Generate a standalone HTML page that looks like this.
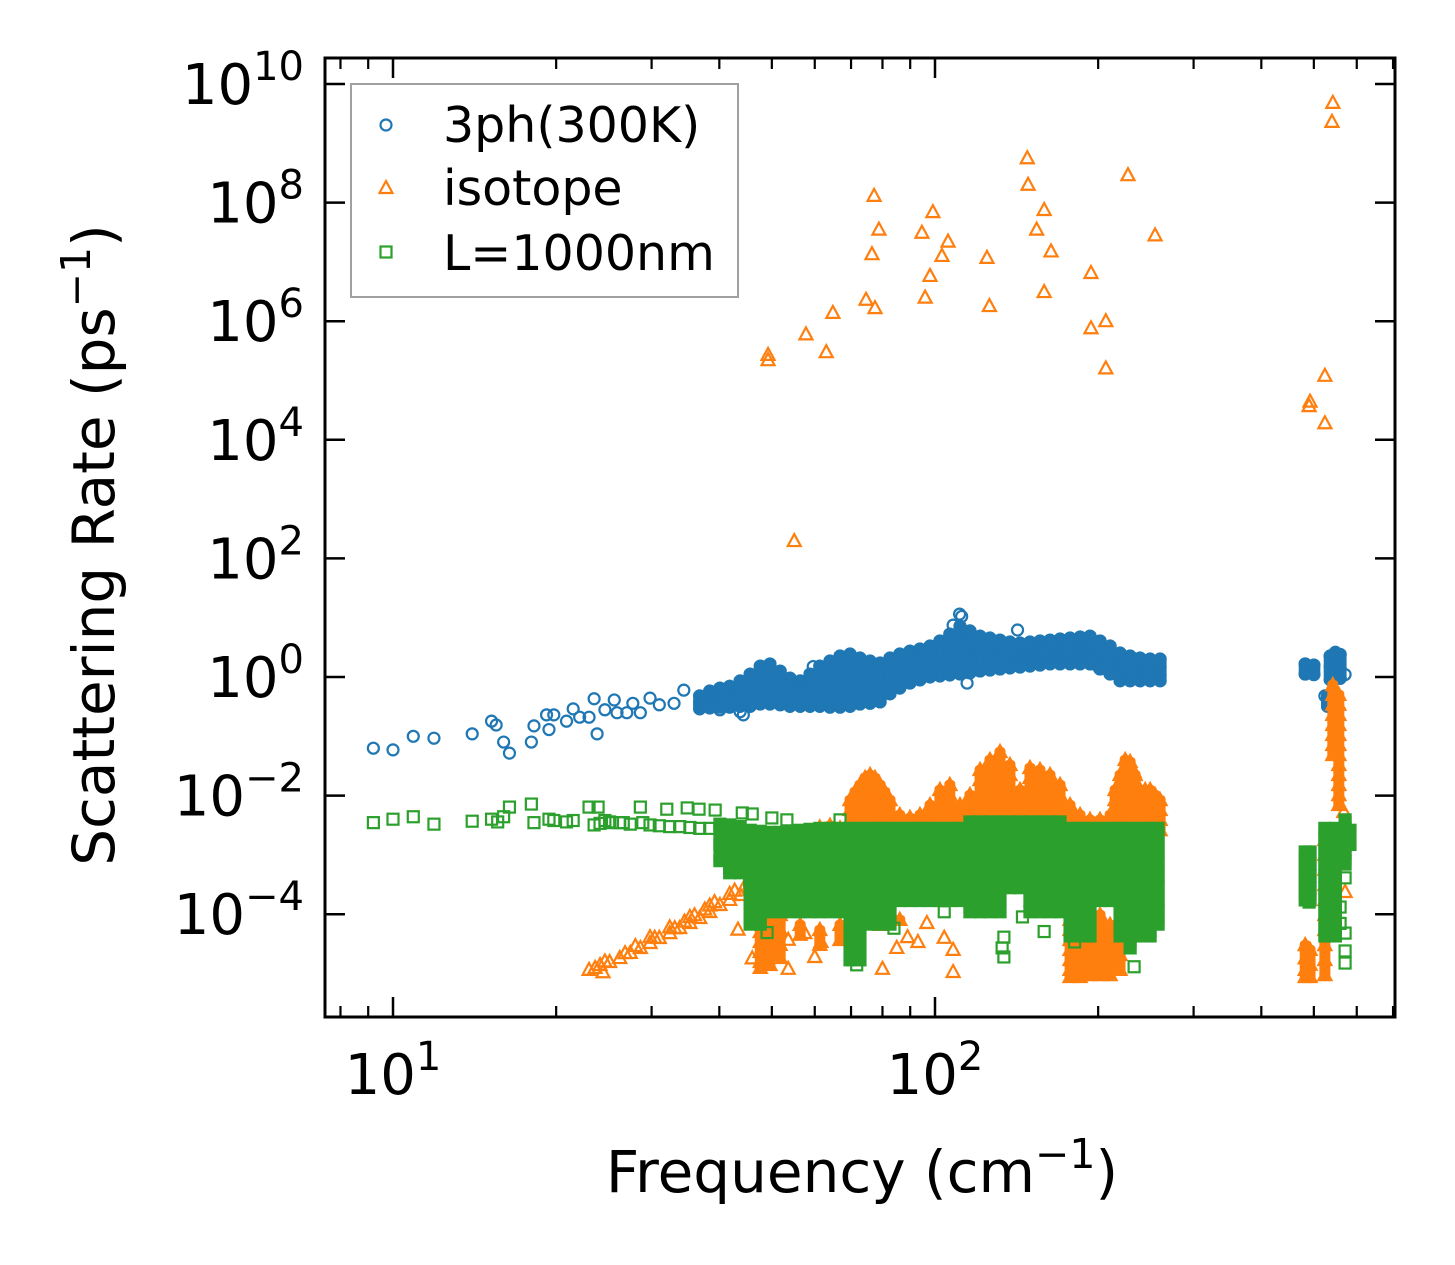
<!DOCTYPE html>
<html><head><meta charset="utf-8"><style>
html,body{margin:0;padding:0;background:#fff;}
svg{display:block;font-family:"DejaVu Sans","Liberation Sans",sans-serif;}
</style></head><body>
<svg id="chart" width="1455" height="1265" viewBox="0 0 1455 1265" xmlns="http://www.w3.org/2000/svg">
<rect x="0" y="0" width="1455" height="1265" fill="#fff"/>
<g id="marks"></g>
<g id="axes"></g>
<g id="legend">
  <rect x="351" y="84" width="387" height="213" fill="#fff" stroke="#a0a0a0" stroke-width="2"/>
  <circle cx="386" cy="125" r="5.5" fill="none" stroke="#1f77b4" stroke-width="2.2"/>
  <text x="443" y="142" font-size="49">3ph(300K)</text>
  <path d="M386,181 L392.5,193 L379.5,193 Z" fill="none" stroke="#ff7f0e" stroke-width="2.2"/>
  <text x="443" y="205" font-size="49">isotope</text>
  <rect x="380.5" y="246.5" width="11" height="11" fill="none" stroke="#2ca02c" stroke-width="2.2"/>
  <text x="443" y="270" font-size="49">L=1000nm</text>
</g>
</svg>
<script>
// ---- data (frequency in cm^-1, scattering rate in ps^-1) ----
const xTickMajor = [10, 100];
const xTickMinor = [8, 9, 20, 30, 40, 50, 60, 70, 80, 90, 200, 300, 400, 500, 600, 700];
const xTickLabels = ["1", "2"];
const yTickMajor = [1e-4, 1e-2, 1e0, 1e2, 1e4, 1e6, 1e8, 1e10];
const yTickLabels = ["\u22124", "\u22122", "0", "2", "4", "6", "8", "10"];

const blueSparse = [[9.2,0.063],[10.0,0.059],[10.9,0.10],[11.9,0.093],[14.0,0.11],[15.2,0.18],[15.5,0.155],[16.0,0.08],[16.4,0.052],[18.0,0.08],[18.2,0.15],[19.4,0.13],[19.2,0.23],[19.8,0.23],[20.9,0.18],[21.5,0.29],[22.1,0.21],[23.0,0.21],[23.5,0.43],[23.8,0.11],[24.6,0.28],[25.6,0.41],[25.9,0.25],[27.0,0.25],[27.7,0.36],[28.6,0.25],[29.8,0.44],[31.0,0.34],[33.0,0.36],[34.4,0.6],[36.8,0.34],[38.4,0.5],[40.1,0.28],[41.8,0.41],[43.7,0.26],
[111,11.5],[112,10.5],[108,7.5],[142,6.2],[59.6,1.5],[44.3,0.23],[114.6,0.79],[200,1.5],
[482,1.66],[482,1.12],[500,1.59],[500,1.1],[490,1.35],[536,2.26],[548,2.6],[559,2.4],[536,1.5],[548,1.6],[559,1.4],[548,1.0],[540,0.9],[559,0.95],[571,1.1],[524,0.48],[530,0.36],[536,0.32],[530,0.42]];
const blueBand = [
[36.8,[0.48,0.38,0.29]],[38.4,[0.58,0.41,0.30]],[40.1,[0.65,0.46,0.31]],[41.8,[0.70,0.48,0.31]],
[43.7,[0.86,0.60,0.44,0.32]],[45.6,[1.12,0.76,0.52,0.32]],[47.6,[1.53,1.0,0.65,0.35]],[49.6,[1.66,1.04,0.65,0.35]],
[51.8,[1.26,0.82,0.54,0.34]],[54.0,[0.96,0.68,0.46,0.32]],[56.4,[0.86,0.60,0.44,0.32]],[58.8,[1.12,0.76,0.52,0.32]],
[61.3,[1.53,0.96,0.60,0.32]],[64.0,[1.86,1.12,0.65,0.31]],[66.8,[2.26,1.31,0.65,0.31]],[69.7,[2.44,1.31,0.65,0.32]],
[72.7,[2.09,1.21,0.65,0.35]],[75.9,[1.86,1.08,0.60,0.36]],[79.2,[1.72,1.04,0.60,0.38]],[82.6,[2.09,1.31,0.82,0.52]],
[86.1,[2.44,1.59,1.0,0.65]],[89.9,[2.74,1.86,1.21,0.79]],[93.8,[2.97,2.01,1.31,0.89]],[97.9,[3.33,2.26,1.47,1.0]],
[102.1,[4.05,2.64,1.66,1.04]],[106.5,[5.3,3.33,2.09,1.08]],[111.2,[7.2,4.2,2.26,1.12]],[116.0,[6.0,3.6,2.09,1.17]],
[121.1,[4.9,3.08,1.94,1.26]],[126.3,[4.55,2.85,1.86,1.31]],[131.8,[4.2,2.74,1.94,1.36]],[137.5,[3.89,2.64,1.86,1.42]],
[143.5,[3.74,2.64,1.94,1.47]],[149.7,[3.89,2.74,2.01,1.53]],[156.2,[4.05,2.85,2.09,1.59]],[163.0,[4.2,2.97,2.17,1.66]],
[170.1,[4.37,3.08,2.26,1.66]],[177.5,[4.55,3.2,2.26,1.66]],[185.2,[4.72,3.33,2.35,1.66]],[193.2,[4.9,3.47,2.35,1.66]],
[201.6,[4.05,2.85,1.94,1.36]],[210.4,[3.33,2.26,1.59,1.12]],[219.5,[2.54,1.72,1.21,0.86]],[229.1,[2.26,1.59,1.12,0.86]],
[239.0,[2.09,1.47,1.08,0.86]],[249.4,[2.01,1.47,1.08,0.86]],[260.2,[2.01,1.47,1.08,0.86]],
[482,[1.66,1.12]],[500,[1.59,1.1]],[536,[2.26,0.9]],[548,[2.6,1.0]],[559,[2.4,0.95]],[530,[0.48,0.32]]];

const orangeSparse = [[148,5.6e8],[227,2.9e8],[148.5,2.0e8],[77.2,1.3e8],[99.1,6.9e7],[159,7.5e7],[78.8,3.5e7],[94.6,3.1e7],[154,3.5e7],[254.7,2.8e7],[105.7,2.2e7],[76.5,1.35e7],[103,1.26e7],[163.7,1.5e7],[124.7,1.17e7],[97.9,5.8e6],[194,6.5e6],[74.6,2.3e6],[77.5,1.66e6],[95.9,2.5e6],[159,3.1e6],[126,1.8e6],[64.8,1.38e6],[57.8,6.0e5],[206.6,1.0e6],[194,7.6e5],[63,3.0e5],[49.2,2.7e5],[49.2,2.2e5],[206.6,1.6e5],
[542,4.8e9],[540,2.3e9],[524,1.2e5],[492,4.4e4],[490,3.7e4],[524,1.9e4],[55,196],
[53.6,1.2e-5],[80,1.2e-5],[108,1.06e-5],[89,4.1e-5],[104,4.0e-5],[93,3.4e-5],[85,2.7e-5],[60,1.9e-5],[61.6,3.4e-5],[53.6,3.7e-5],[46,1.8e-5],[57.5,4.8e-5],[96.6,7.1e-5],[108,2.5e-5],[43.3,5.5e-5],[233,0.025],[73.3,0.017],[255,1.6e-3],
[571,2.37e-4],[568,5.3e-3],[565,2.6e-3],[568,1.21e-3]];
const orangeRamp = [[23.0,1.15e-5],[23.6,1.24e-5],[24.1,1.39e-5],[24.4,1.05e-5],[25.1,1.56e-5],[26.2,1.82e-5],[27.4,2.22e-5],[28.6,2.69e-5],[29.8,3.27e-5],[31.0,3.97e-5],[32.4,4.8e-5],[33.8,5.85e-5],[35.3,7.1e-5],[36.8,8.6e-5],[38.4,1.09e-4],[40.1,1.43e-4],[41.8,1.74e-4],[43.7,2.11e-4],[45.6,2.56e-4],[47.6,3.1e-4],
[29.8,4.1e-5],[32.4,6.0e-5],[35.3,9.0e-5],[38.4,1.4e-4],[41.8,2.2e-4],[45.6,3.3e-4],
[24.6,1.6e-5],[26.8,2.2e-5],[28.0,2.9e-5],[30.4,4.0e-5],[33.1,5.8e-5],[34.5,7.5e-5],[36.0,9.6e-5],[37.6,1.2e-4],[39.2,1.6e-4],[42.7,2.5e-4],[44.6,3.0e-4]];
const orangeCols = [
[61.3,[2.9e-3]],[64.0,[3.1e-3]],[66.8,[2.8e-3]],
[69.7,[8.4e-3,5.7e-3,3.9e-3,2.6e-3]],[71.2,[0.0115,7.8e-3,5.3e-3,3.6e-3]],[72.7,[0.0151,0.0102,6.9e-3,4.7e-3,3.2e-3]],
[74.3,[0.0198,0.0134,9.1e-3,6.2e-3,4.2e-3,2.84e-3]],[75.9,[0.0222,0.0151,0.0102,6.9e-3,4.7e-3,3.2e-3]],[77.5,[0.0198,0.0134,9.1e-3,6.2e-3,4.2e-3,2.84e-3]],
[79.2,[0.0151,0.0102,6.9e-3,4.7e-3,3.2e-3]],[80.8,[0.0115,7.8e-3,5.3e-3,3.6e-3]],[82.6,[8.4e-3,5.7e-3,3.9e-3,2.6e-3]],[86.1,[4.7e-3,3.2e-3]],
[89.9,[4.2e-3,2.9e-3]],[93.8,[4.7e-3,3.2e-3]],[97.9,[6.9e-3,4.7e-3,3.2e-3]],[102.1,[0.0124,8.4e-3,5.7e-3,3.9e-3]],[106.5,[0.0151,0.0102,6.9e-3,4.7e-3,3.2e-3]],[111.2,[6.9e-3,4.7e-3,3.2e-3]],
[116.0,[0.0102,6.9e-3,4.7e-3,3.2e-3]],[121.1,[0.027,0.0183,0.0124,8.4e-3,5.7e-3,3.9e-3]],[126.3,[0.0398,0.027,0.0183,0.0124,8.4e-3,5.7e-3,3.9e-3]],
[131.8,[0.0543,0.0369,0.025,0.017,0.0115,7.8e-3,5.3e-3,3.6e-3]],[137.5,[0.0328,0.0222,0.0151,0.0102,6.9e-3,4.7e-3,3.2e-3]],[143.5,[0.0124,8.4e-3,5.7e-3,3.9e-3]],
[149.7,[0.0292,0.0198,0.0134,9.1e-3,6.2e-3,4.2e-3,2.84e-3]],[156.2,[0.027,0.0183,0.0124,8.4e-3,5.7e-3,3.9e-3]],[163.0,[0.0222,0.0151,0.0102,6.9e-3,4.7e-3,3.2e-3]],
[170.1,[0.0151,0.0102,6.9e-3,4.7e-3,3.2e-3]],[177.5,[6.9e-3,4.7e-3,3.2e-3]],[185.2,[4.7e-3,3.2e-3]],[193.2,[3.9e-3]],[201.6,[3.9e-3]],
[210.4,[4.7e-3,3.2e-3]],[214.9,[0.0124,8.4e-3,5.7e-3,3.9e-3]],[219.5,[0.0222,0.0151,0.0102,6.9e-3,4.7e-3,3.2e-3]],[224.3,[0.0398,0.027,0.0183,0.0124,8.4e-3,5.7e-3,3.9e-3]],
[229.1,[0.0369,0.025,0.017,0.0115,7.8e-3,5.3e-3,3.6e-3]],[234.0,[0.0222,0.0151,0.0102,6.9e-3,4.7e-3,3.2e-3]],[239.0,[0.0124,8.4e-3,5.7e-3,3.9e-3]],
[244.2,[0.0124,8.4e-3,5.7e-3,3.9e-3]],[249.4,[0.0124,8.4e-3,5.7e-3,3.9e-3]],[254.7,[0.0102,6.9e-3,4.7e-3,3.2e-3]],[260.2,[8.4e-3,5.7e-3,3.9e-3,2.6e-3]],
[47.6,[1.09e-4,7.4e-5,5.0e-5,3.4e-5,2.31e-5,1.56e-5,1.24e-5]],[49.6,[1.09e-4,7.4e-5,5.0e-5,3.4e-5,2.31e-5,1.39e-5]],[51.8,[9.7e-5,5.4e-5,3.03e-5,1.82e-5]],
[56.4,[6.6e-5,4.5e-5]],[61.3,[5.4e-5,3.03e-5]],[66.8,[6.6e-5,3.67e-5]],[79.2,[9.7e-5,6.6e-5]],[86.1,[8.0e-5]],
[177.5,[1.18e-4,8.0e-5,5.4e-5,3.67e-5,2.49e-5,1.69e-5,1.15e-5,8.7e-6]],[185.2,[1.18e-4,8.0e-5,5.4e-5,3.67e-5,2.49e-5,1.69e-5,1.15e-5,8.7e-6]],
[193.2,[5.4e-5,3.03e-5,1.69e-5,9.4e-6]],[201.6,[9.7e-5,6.6e-5,4.5e-5,3.03e-5,2.05e-5,1.39e-5,9.4e-6]],[210.4,[6.6e-5,4.5e-5,3.03e-5,2.05e-5,1.39e-5,9.4e-6]],[219.5,[3.67e-5,2.05e-5,1.15e-5]],
[542,[0.73,0.50,0.34,0.23,0.155,0.105,0.0713,0.0484]],[556,[0.50,0.34,0.23,0.155,0.105,0.0713,0.0484,0.0328,0.0222,0.0151,0.0102,6.95e-3]],
[524,[1.78e-3,1.0e-3,5.6e-4,3.1e-4,1.74e-4,9.7e-5,5.4e-5,3.0e-5,1.69e-5,9.4e-6]],[482,[3.0e-5,1.8e-5,1.15e-5,8.7e-6]],[492,[2.5e-5,1.4e-5,8.7e-6]]];

const greenSparse = [[9.2,3.5e-3],[10.0,4.0e-3],[10.9,4.4e-3],[11.9,3.3e-3],[14.0,3.7e-3],[15.2,4.0e-3],[15.6,3.6e-3],[16.4,6.4e-3],[16.0,4.4e-3],[18.0,7.2e-3],[18.2,3.5e-3],[19.4,4.0e-3],[19.8,3.8e-3],[20.9,3.6e-3],[21.5,3.8e-3],[23.0,6.4e-3],[23.9,6.4e-3],[23.5,3.2e-3],[24.6,3.8e-3],[25.4,3.5e-3],[26.6,3.5e-3],[28.6,6.4e-3],[28.9,3.5e-3],
[32.0,5.9e-3],[34.9,6.2e-3],[36.7,5.9e-3],[39.3,5.7e-3],[44.1,5.1e-3],[46.0,4.9e-3],[50.0,4.2e-3],[53.3,3.9e-3],[66.8,3.9e-3],
[24.1,3.4e-3],[25.1,3.6e-3],[26.2,3.5e-3],[27.4,3.3e-3],[29.8,3.2e-3],[31.0,3.1e-3],[32.4,3.0e-3],[33.8,3.0e-3],[35.3,2.9e-3],[36.8,2.8e-3],[38.4,2.8e-3],[40.1,2.7e-3],[41.8,2.6e-3],[43.7,2.6e-3],
[49,4.9e-5],[71,2.2e-5],[71.7,1.4e-5],[134,4.1e-5],[133,2.7e-5],[134,1.9e-5],[159,5.1e-5],[233,1.3e-5],[181,3.4e-5],[104,1.1e-4],[84,5.8e-5],[45.5,3.7e-4],[145,9e-5],
[571,4.8e-5],[571,2.4e-5],[571,1.5e-5],[559,1.32e-4],[559,7.0e-5],[571,4.1e-4],[490,1.6e-4]];
const greenCols = [
[40.1,[3.3e-3,1.5e-3,8e-4]],[41.8,[3.2e-3,1.3e-3,7e-4,5e-4]],[43.7,[3.0e-3,1.5e-3,8e-4,5e-4]],
[45.6,[2.6e-3,1.7e-3,1.1e-3,7.0e-4,4.4e-4,2.8e-4,1.7e-4,1.1e-4,6.8e-5]],[47.6,[2.5e-3,1.6e-3,1.1e-3,7.0e-4,4.4e-4,2.8e-4,1.7e-4,1.1e-4,6.8e-5]],
[49.6,[2.4e-3,1.6e-3,1.1e-3,7.0e-4,4.4e-4,2.8e-4,1.7e-4,1.1e-4]],[51.8,[2.4e-3,1.6e-3,1.1e-3,7.0e-4,4.4e-4,2.8e-4,1.7e-4,1.1e-4]],
[54.0,[2.5e-3,1.7e-3,1.1e-3,7.0e-4,4.4e-4,2.8e-4,1.7e-4,1.1e-4]],[56.4,[2.6e-3,1.7e-3,1.1e-3,7.0e-4,4.4e-4,2.8e-4,1.7e-4,1.1e-4]],
[58.8,[2.7e-3,1.8e-3,1.1e-3,7.0e-4,4.4e-4,2.8e-4,1.7e-4,1.1e-4]],[61.3,[2.8e-3,1.8e-3,1.1e-3,7.0e-4,4.4e-4,2.8e-4,1.7e-4,1.1e-4]],
[64.0,[2.8e-3,1.8e-3,1.1e-3,7.0e-4,4.4e-4,2.8e-4,1.7e-4,1.1e-4]],[66.8,[2.8e-3,1.8e-3,1.1e-3,7.0e-4,4.4e-4,2.8e-4,1.7e-4,1.1e-4]],
[69.7,[2.8e-3,1.8e-3,1.1e-3,7.0e-4,4.4e-4,2.8e-4,1.7e-4,1.1e-4,6.8e-5,4.3e-5,2.7e-5,1.7e-5]],[72.7,[2.8e-3,1.8e-3,1.1e-3,7.0e-4,4.4e-4,2.8e-4,1.7e-4,1.1e-4,6.8e-5,4.3e-5,2.7e-5,1.7e-5]],
[75.9,[2.8e-3,1.8e-3,1.1e-3,7.0e-4,4.4e-4,2.8e-4,1.7e-4,1.1e-4,6.8e-5]],[79.2,[2.8e-3,1.8e-3,1.1e-3,7.0e-4,4.4e-4,2.8e-4,1.7e-4,1.1e-4,6.8e-5]],
[82.6,[2.8e-3,1.8e-3,1.1e-3,7.0e-4,4.4e-4,2.8e-4,1.7e-4,1.1e-4,6.8e-5]],[86.1,[2.8e-3,1.8e-3,1.1e-3,7.0e-4,4.4e-4,2.8e-4,1.7e-4]],
[89.9,[2.8e-3,1.8e-3,1.1e-3,7.0e-4,4.4e-4,2.8e-4,1.7e-4]],[93.8,[2.8e-3,1.8e-3,1.1e-3,7.0e-4,4.4e-4,2.8e-4,1.7e-4]],
[97.9,[2.8e-3,1.8e-3,1.1e-3,7.0e-4,4.4e-4,2.8e-4,1.7e-4]],[102.1,[2.8e-3,1.8e-3,1.1e-3,7.0e-4,4.4e-4,2.8e-4,1.7e-4]],
[106.5,[2.8e-3,1.8e-3,1.1e-3,7.0e-4,4.4e-4,2.8e-4,1.7e-4]],[111.2,[2.8e-3,1.8e-3,1.1e-3,7.0e-4,4.4e-4,2.8e-4,1.7e-4]],
[116.0,[3.6e-3,2.8e-3,1.8e-3,1.1e-3,7.0e-4,4.4e-4,2.8e-4,1.7e-4,1.1e-4]],[121.1,[3.6e-3,2.8e-3,1.8e-3,1.1e-3,7.0e-4,4.4e-4,2.8e-4,1.7e-4,1.1e-4]],
[126.3,[3.6e-3,2.8e-3,1.8e-3,1.1e-3,7.0e-4,4.4e-4,2.8e-4,1.7e-4,1.1e-4]],[131.8,[3.6e-3,2.8e-3,1.8e-3,1.1e-3,7.0e-4,4.4e-4,2.8e-4,1.7e-4,1.1e-4]],
[137.5,[3.6e-3,2.8e-3,1.8e-3,1.1e-3,7.0e-4,4.4e-4,2.8e-4]],[143.5,[3.6e-3,2.8e-3,1.8e-3,1.1e-3,7.0e-4,4.4e-4,2.8e-4]],
[149.7,[3.6e-3,2.8e-3,1.8e-3,1.1e-3,7.0e-4,4.4e-4,2.8e-4,1.7e-4,1.1e-4]],[156.2,[3.6e-3,2.8e-3,1.8e-3,1.1e-3,7.0e-4,4.4e-4,2.8e-4,1.7e-4,1.1e-4]],
[163.0,[3.6e-3,2.8e-3,1.8e-3,1.1e-3,7.0e-4,4.4e-4,2.8e-4,1.7e-4,1.1e-4]],[170.1,[3.6e-3,2.8e-3,1.8e-3,1.1e-3,7.0e-4,4.4e-4,2.8e-4,1.7e-4,1.1e-4]],
[177.5,[2.8e-3,1.8e-3,1.1e-3,7.0e-4,4.4e-4,2.8e-4,1.7e-4,1.1e-4,6.8e-5,4.3e-5]],[185.2,[2.8e-3,1.8e-3,1.1e-3,7.0e-4,4.4e-4,2.8e-4,1.7e-4,1.1e-4,6.8e-5,4.3e-5]],
[193.2,[2.8e-3,1.8e-3,1.1e-3,7.0e-4,4.4e-4,2.8e-4,1.7e-4,1.1e-4,6.8e-5,4.3e-5]],[201.6,[2.8e-3,1.8e-3,1.1e-3,7.0e-4,4.4e-4,2.8e-4,1.7e-4]],
[210.4,[2.8e-3,1.8e-3,1.1e-3,7.0e-4,4.4e-4,2.8e-4,1.7e-4]],[219.5,[2.8e-3,1.8e-3,1.1e-3,7.0e-4,4.4e-4,2.8e-4,1.7e-4,1.1e-4,6.8e-5,4.3e-5]],
[229.1,[2.8e-3,1.8e-3,1.1e-3,7.0e-4,4.4e-4,2.8e-4,1.7e-4,1.1e-4,6.8e-5,4.3e-5,2.7e-5]],[239.0,[2.8e-3,1.8e-3,1.1e-3,7.0e-4,4.4e-4,2.8e-4,1.7e-4,1.1e-4,6.8e-5,4.3e-5]],
[249.4,[2.8e-3,1.8e-3,1.1e-3,7.0e-4,4.4e-4,2.8e-4,1.7e-4,1.1e-4,6.8e-5,4.3e-5]],[258.0,[2.8e-3,1.8e-3,1.1e-3,7.0e-4,4.4e-4,2.8e-4,1.7e-4,1.1e-4,6.8e-5]],
[482,[1.12e-3,7.0e-4,4.4e-4,2.77e-4,1.74e-4]],[492,[1.12e-3,7.0e-4,4.4e-4,2.77e-4,1.74e-4]],
[524,[2.8e-3,1.8e-3,1.1e-3,7.0e-4,4.4e-4,2.8e-4,1.7e-4,1.1e-4,6.8e-5,4.3e-5]],[548,[2.8e-3,1.8e-3,1.1e-3,7.0e-4,4.4e-4,2.8e-4,1.7e-4,1.1e-4,6.8e-5,4.3e-5]],
[571,[3.9e-3,2.8e-3,1.8e-3,1.1e-3,7.0e-4]],[583,[2.6e-3,1.5e-3]]];

// ---- scales ----
const X = f => 393 + 542 * (Math.log10(f) - 1);
const Y = v => 677 - 59.3 * Math.log10(v);
const NS = "http://www.w3.org/2000/svg";
const marks = document.getElementById('marks');
const axes = document.getElementById('axes');

function flat(sparse, cols) {
  const pts = sparse.slice();
  cols.forEach(c => c[1].forEach(v => pts.push([c[0], v])));
  return pts;
}
// dense clusters: fill each column's extent (min..max of its values)
function colFill(g, cols, color, halfW) {
  cols.forEach(c => {
    const x = X(c[0]);
    const yTop = Y(Math.max(...c[1])) - 5;
    const yBot = Y(Math.min(...c[1])) + 5;
    const r = document.createElementNS(NS, 'rect');
    r.setAttribute('x', x - halfW); r.setAttribute('y', yTop);
    r.setAttribute('width', 2 * halfW); r.setAttribute('height', Math.max(yBot - yTop, 1));
    r.setAttribute('rx', 4); r.setAttribute('fill', color);
    
    
    g.appendChild(r);
  });
}

// blue circles
const gB = document.createElementNS(NS, 'g');


marks.appendChild(gB);
colFill(gB, blueBand, '#1f77b4', 6.5);
flat(blueSparse, blueBand).forEach(p => {
  const c = document.createElementNS(NS, 'circle');
  c.setAttribute('cx', X(p[0])); c.setAttribute('cy', Y(p[1])); c.setAttribute('r', 5.5);
  c.setAttribute('fill', 'none'); c.setAttribute('stroke', '#1f77b4'); c.setAttribute('stroke-width', 2.2);
  
  
  gB.appendChild(c);
});

// orange triangles
const gO = document.createElementNS(NS, 'g');


marks.appendChild(gO);
colFill(gO, orangeCols, '#ff7f0e', 5.5);
flat(orangeSparse.concat(orangeRamp), orangeCols).forEach(p => {
  const x = X(p[0]), y = Y(p[1]);
  const t = document.createElementNS(NS, 'path');
  t.setAttribute('d', `M${x},${y-7} L${x+6.5},${y+5} L${x-6.5},${y+5} Z`);
  t.setAttribute('fill', 'none'); t.setAttribute('stroke', '#ff7f0e'); t.setAttribute('stroke-width', 2.2);
  
  
  gO.appendChild(t);
});

// green squares
const gG = document.createElementNS(NS, 'g');


marks.appendChild(gG);
colFill(gG, greenCols, '#2ca02c', 6.5);
flat(greenSparse, greenCols).forEach(p => {
  const r = document.createElementNS(NS, 'rect');
  r.setAttribute('x', X(p[0]) - 5.5); r.setAttribute('y', Y(p[1]) - 5.5);
  r.setAttribute('width', 11); r.setAttribute('height', 11);
  r.setAttribute('fill', 'none'); r.setAttribute('stroke', '#2ca02c'); r.setAttribute('stroke-width', 2.2);
  
  
  gG.appendChild(r);
});

// ---- axes ----
const L = 325, R = 1395, T = 58, B = 1017;
function line(x1, y1, x2, y2, w, name) {
  const l = document.createElementNS(NS, 'line');
  l.setAttribute('x1', x1); l.setAttribute('y1', y1); l.setAttribute('x2', x2); l.setAttribute('y2', y2);
  l.setAttribute('stroke', '#000'); l.setAttribute('stroke-width', w);
  
  
  axes.appendChild(l);
}
xTickMajor.forEach((f, i) => {
  const x = X(f);
  line(x, B, x, B - 20, 2.5, 'x-major-tick');
  line(x, T, x, T + 20, 2.5, 'x-major-tick-top');
  const t = document.createElementNS(NS, 'text');
  t.setAttribute('x', x); t.setAttribute('y', 1094); t.setAttribute('font-size', 56); t.setAttribute('text-anchor', 'middle');
  t.innerHTML = '10<tspan dy="-24" font-size="40">' + xTickLabels[i] + '</tspan>';
  
  
  axes.appendChild(t);
});
xTickMinor.forEach(f => {
  const x = X(f);
  line(x, B, x, B - 11, 2.2, 'x-minor-tick');
  line(x, T, x, T + 11, 2.2, 'x-minor-tick-top');
});
yTickMajor.forEach((v, i) => {
  const y = Y(v);
  line(L, y, L + 20, y, 2.5, 'y-major-tick');
  line(R, y, R - 20, y, 2.5, 'y-major-tick-right');
  const t = document.createElementNS(NS, 'text');
  t.setAttribute('x', 304); t.setAttribute('y', y + 20); t.setAttribute('font-size', 56); t.setAttribute('text-anchor', 'end');
  t.innerHTML = '10<tspan dy="-24" font-size="40">' + yTickLabels[i] + '</tspan>';
  
  
  axes.appendChild(t);
});
const frame = document.createElementNS(NS, 'rect');
frame.setAttribute('x', L); frame.setAttribute('y', T); frame.setAttribute('width', R - L); frame.setAttribute('height', B - T);
frame.setAttribute('fill', 'none'); frame.setAttribute('stroke', '#000'); frame.setAttribute('stroke-width', 3);


axes.appendChild(frame);

const xl = document.createElementNS(NS, 'text');
xl.setAttribute('x', 862); xl.setAttribute('y', 1192); xl.setAttribute('font-size', 58); xl.setAttribute('text-anchor', 'middle');
xl.innerHTML = 'Frequency (cm<tspan dy="-24" font-size="41">\u22121</tspan><tspan dy="24">)</tspan>';


axes.appendChild(xl);
const yl = document.createElementNS(NS, 'text');
yl.setAttribute('x', 0); yl.setAttribute('y', 0); yl.setAttribute('font-size', 58); yl.setAttribute('text-anchor', 'middle');
yl.setAttribute('transform', 'translate(114,545) rotate(-90)');
yl.innerHTML = 'Scattering Rate (ps<tspan dy="-24" font-size="41">\u22121</tspan><tspan dy="24">)</tspan>';


axes.appendChild(yl);
</script>
</body></html>
